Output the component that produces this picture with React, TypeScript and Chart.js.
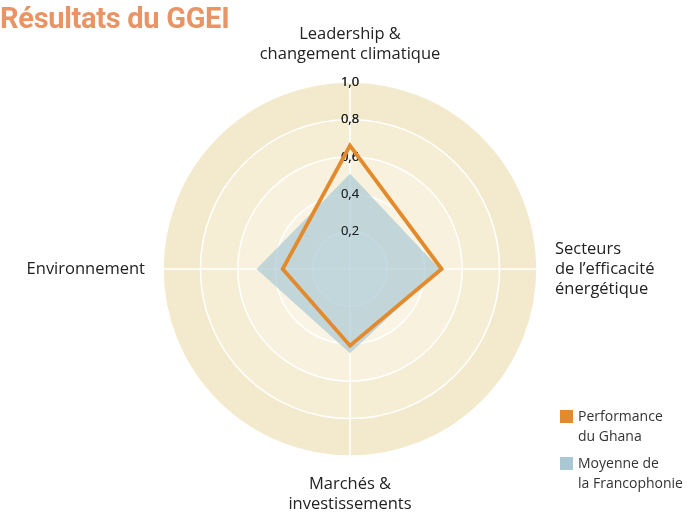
import { useEffect, useRef } from 'react'
import { Chart, registerables } from 'chart.js'

Chart.register(...registerables)

const axisLabels = [
  ['Leadership &', 'changement climatique'],
  ['Secteurs', 'de l’efficacité', 'énergétique'],
  ['Marchés &', 'investissements'],
  ['Environnement'],
]
const ghana = [0.66, 0.49, 0.41, 0.36]
const francophonie = [0.51, 0.48, 0.45, 0.5]
const bandColors = ['#faf6ea', '#f9f4e4', '#f7f1dd', '#f5eed5', '#f3eacd']
const tickStep = 0.2

const FONT = "'Open Sans', 'DejaVu Sans', sans-serif"

// concentric beige bands under the grid
const bandsPlugin = {
  id: 'bands',
  beforeDraw(chart: any) {
    const scale = chart.scales.r
    const ctx = chart.ctx
    ctx.save()
    for (let i = bandColors.length - 1; i >= 0; i--) {
      const r = scale.getDistanceFromCenterForValue((i + 1) * tickStep)
      ctx.beginPath()
      ctx.arc(scale.xCenter, scale.yCenter, r, 0, Math.PI * 2)
      ctx.fillStyle = bandColors[i]
      ctx.fill()
    }
    ctx.restore()
  },
  // tick labels again above the blue area, but still under the orange line
  afterDatasetDraw(chart: any, args: any) {
    if (args.index === 1) chart.scales.r.drawLabels()
  },
}

// axis names around the disc, multi-line
const axisNamesPlugin = {
  id: 'axisNames',
  afterDraw(chart: any) {
    const scale = chart.scales.r
    const ctx = chart.ctx
    const lineH = 20
    ctx.save()
    ctx.font = `16.5px ${FONT}`
    ctx.fillStyle = '#222'
    axisLabels.forEach((lines, i) => {
      const pos = scale.getPointPosition(i, scale.drawingArea + 18)
      const dx = pos.x - scale.xCenter
      const dy = pos.y - scale.yCenter
      let startY: number
      if (Math.abs(dx) < 1) {
        ctx.textAlign = 'center'
        startY = dy < 0 ? pos.y - lineH * lines.length + lineH / 2 : pos.y + lineH / 2
      } else {
        ctx.textAlign = dx > 0 ? 'left' : 'right'
        startY = pos.y - (lineH * (lines.length - 1)) / 2
      }
      ctx.textBaseline = 'middle'
      lines.forEach((t, j) => ctx.fillText(t, pos.x, startY + j * lineH))
    })
    ctx.restore()
  },
}

function RadarChart() {
  const canvasRef = useRef<HTMLCanvasElement>(null)
  const chartRef = useRef<any>(null)

  useEffect(() => {
    if (!canvasRef.current) return
    if (chartRef.current) chartRef.current.destroy()

    chartRef.current = new Chart(canvasRef.current, {
      type: 'radar',
      data: {
        labels: axisLabels.map(l => l.join(' ')),
        datasets: [
          {
            label: 'Performance du Ghana',
            data: ghana,
            borderColor: '#e38b2c',
            borderWidth: 3.8,
            borderJoinStyle: 'miter',
            fill: false,
            pointRadius: 0,
          },
          {
            label: 'Moyenne de la Francophonie',
            data: francophonie,
            backgroundColor: 'rgba(160,196,210,0.62)',
            borderWidth: 0,
            fill: true,
            pointRadius: 0,
          },
        ],
      },
      options: {
        animation: false,
        responsive: true,
        maintainAspectRatio: false,
        // tick font (13) + backdrop padding (4) is taken off the radius by the scale
        layout: { padding: { left: 155, right: 154, top: 74, bottom: 51 } },
        plugins: { legend: { display: false }, tooltip: { enabled: false } },
        scales: {
          r: {
            min: 0,
            max: 1,
            ticks: {
              stepSize: tickStep,
              showLabelBackdrop: false,
              color: '#222',
              font: { family: FONT, size: 13 },
              callback: (v: string | number) => Number(v).toFixed(1).replace('.', ','),
            },
            grid: { circular: true, color: '#ffffff', lineWidth: 1.5 },
            angleLines: { color: '#ffffff', lineWidth: 1.5 },
            pointLabels: { display: false },
          },
        },
      },
      plugins: [bandsPlugin, axisNamesPlugin],
    })

    return () => { if (chartRef.current) chartRef.current.destroy() }
  }, [])

  return <canvas ref={canvasRef} />
}

export default function App() {
  return (
    <div style={{ position: 'fixed', left: 0, top: 0, width: 700, height: 516, background: '#fff', fontFamily: FONT }}>
      <RadarChart />
      <div style={{ position: 'absolute', left: 0, top: 1, color: '#ea9466', fontFamily: "Roboto, sans-serif", fontWeight: 700, fontSize: 29, letterSpacing: -0.3 }}>
        Résultats du GGEI
      </div>
      <div style={{ position: 'absolute', left: 560, top: 406, fontSize: 14, color: '#333', lineHeight: '20px' }}>
        <div style={{ display: 'flex', alignItems: 'flex-start' }}>
          <span style={{ width: 13, height: 13, background: '#e38b2c', marginTop: 4, marginRight: 5, flex: 'none' }} />
          <span>Performance<br />du Ghana</span>
        </div>
        <div style={{ display: 'flex', alignItems: 'flex-start', marginTop: 7 }}>
          <span style={{ width: 13, height: 13, background: '#aac8d4', marginTop: 4, marginRight: 5, flex: 'none' }} />
          <span>Moyenne de<br />la Francophonie</span>
        </div>
      </div>
    </div>
  )
}
